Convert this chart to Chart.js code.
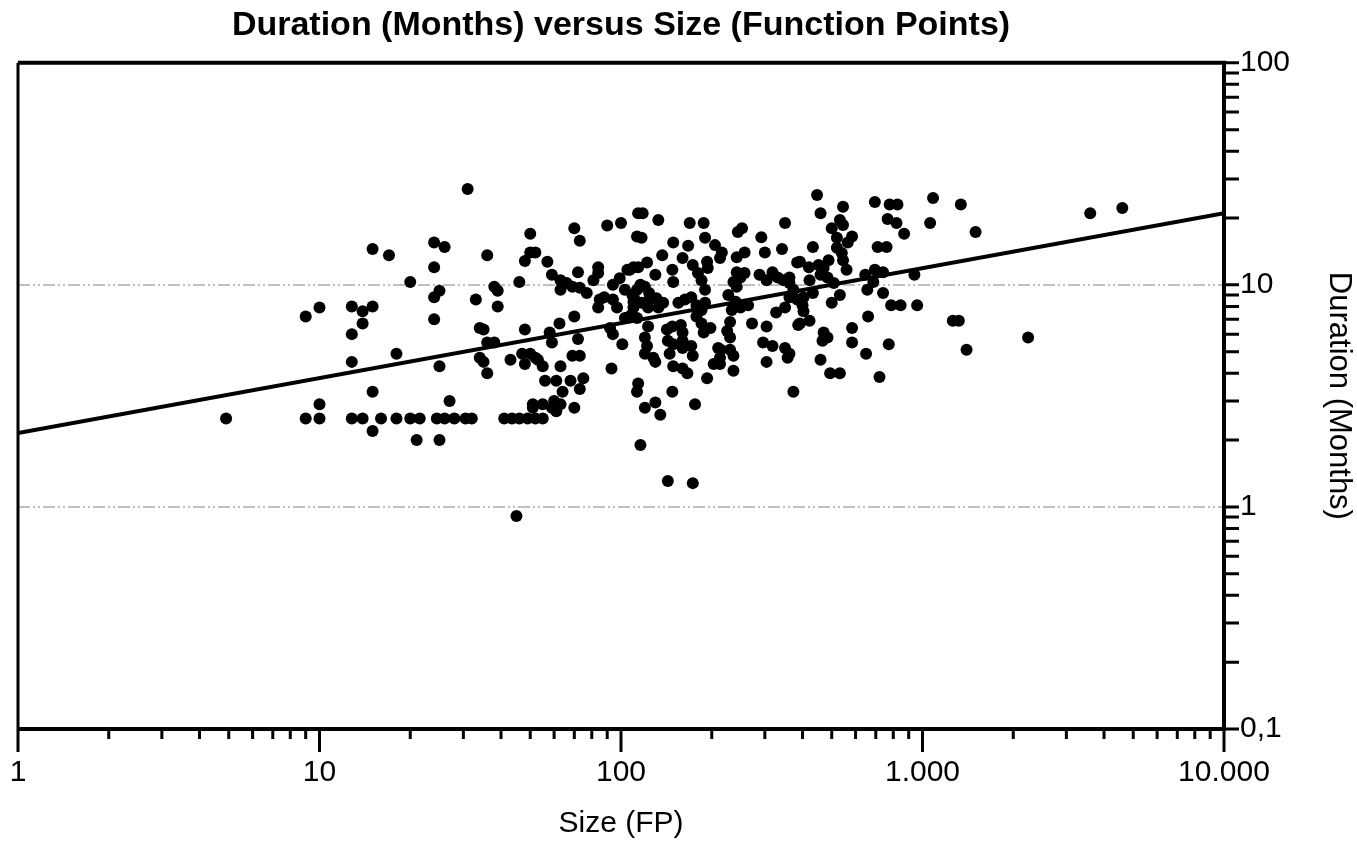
<!DOCTYPE html>
<html>
<head>
<meta charset="utf-8">
<script src="https://cdn.jsdelivr.net/npm/chart.js@4.4.0/dist/chart.umd.min.js"></script>
<style>
  html, body { margin: 0; padding: 0; background: #fff; }
  #wrap { width: 1357px; height: 842px; }
</style>
</head>
<body>
<div id="wrap"><canvas id="chart"></canvas></div>
<script>
const chartTitle = 'Duration (Months) versus Size (Function Points)';
const xTitle = 'Size (FP)';
const yTitle = 'Duration (Months)';

const xTicks = [1, 10, 100, 1000, 10000];
const xTickLabels = ['1', '10', '100', '1.000', '10.000'];
const yTicks = [0.1, 1, 10, 100];
const yTickLabels = ['0,1', '1', '10', '100'];
const gridValues = [1, 10];

// projects: size in function points, duration in months (same order in both arrays)
const sizeFP = [
  4.9,
  9, 10, 9, 10, 10,
  12.8, 13.9, 15, 13.9, 12.8, 12.8,
  15, 17, 18, 15, 15,
  12.8, 13.9, 16, 18, 20, 21.5, 24.5, 26, 28, 30.5, 32,
  21, 25, 27, 25, 24, 24, 25, 24, 24, 26, 20, 31,
  33, 35, 36, 38, 39, 39, 36, 38, 34, 35, 36,
  45, 43, 46, 48, 50, 52, 50, 48, 47, 50, 48, 51, 34,
  57, 70, 73, 90, 100, 114, 113,
  59, 63, 66, 72, 63, 69, 73, 77,
  84, 84, 81, 99, 105, 110,
  85, 88, 84, 94, 97, 70, 62.5,
  52, 53, 55, 58, 59, 72, 69, 73, 63,
  56, 61, 68, 73, 75, 64, 60,
  51, 55, 59, 63, 70, 61,
  41, 43.5, 46, 49, 52, 55,
  93, 114, 113, 92, 94, 101, 103, 108, 110, 109, 111,
  118, 133, 169, 188, 244, 252, 350, 117,
  149, 167, 190, 137, 160, 205, 216, 213, 242, 257,
  292, 300, 342, 384,
  107, 114, 122, 148, 149,
  173, 180, 193, 194, 185, 190,
  242, 249, 257, 236, 242,
  288, 304, 318, 331, 346, 362,
  113, 120, 124, 131, 138,
  110, 117, 123, 133, 107, 113,
  155, 163, 171, 178, 185, 190,
  178, 185, 198, 188,
  227, 240, 249, 264, 233,
  230, 225, 230, 272, 304,
  327, 350, 384, 387,
  123, 120, 122, 120, 130,
  142, 148, 158, 160, 143, 149, 160,
  145, 160, 171, 173, 149, 160, 166, 193,
  210, 213, 236, 203, 213, 236,
  296, 318, 350, 357, 304, 373, 148,
  120, 130, 135, 176, 116, 143, 173,
  116, 124, 130, 103, 94, 128, 214, 230,
  447, 459, 545, 532, 545, 500, 695, 778, 826, 1084,
  766, 820, 869, 1060, 1340,
  520, 584, 565, 520, 540, 545, 433, 710, 760,
  392, 420, 452, 470, 488, 560, 646, 695, 740, 940,
  362, 422, 459, 484, 508,
  373, 403, 433, 362, 532, 500, 656, 687, 740,
  787, 846, 960, 400, 403, 392, 422, 660, 1260, 1320,
  470, 484, 466, 584, 584, 650, 773, 459, 494, 532, 720, 362,
  2240, 1400, 1500, 3600, 4600
];
const durationMonths = [
  2.5,
  7.2, 7.9, 2.5, 2.5, 2.9,
  8.0, 7.6, 8.0, 6.7, 6.0, 4.5,
  14.5, 13.6, 4.9, 3.3, 2.2,
  2.5, 2.5, 2.5, 2.5, 2.5, 2.5, 2.5, 2.5, 2.5, 2.5, 2.5,
  2.0, 2.0, 3.0, 4.3, 7.0, 8.8, 9.4, 12, 15.5, 14.8, 10.3, 27,
  8.6, 6.3, 13.6, 9.8, 9.4, 8.0, 5.5, 5.5, 4.7, 4.5, 4.0,
  0.91, 4.6, 10.3, 12.8, 14, 14, 17, 6.3, 4.9, 4.9, 4.4, 2.8, 6.4,
  12.7, 18, 15.8, 18.5, 19, 21, 16.5,
  11.1, 10.5, 10.2, 11.4, 9.5, 9.8, 9.7, 9.2,
  12, 11.3, 10.5, 10.7, 11.7, 12,
  8.6, 8.8, 7.9, 8.6, 7.9, 7.2, 6.7,
  4.7, 4.6, 4.3, 6.1, 5.5, 5.7, 4.8, 4.8, 4.3,
  3.7, 3.7, 3.7, 3.4, 3.8, 3.3, 3.0,
  2.9, 2.9, 2.8, 2.9, 2.8, 2.7,
  2.5, 2.5, 2.5, 2.5, 2.5, 2.5,
  4.2, 3.6, 3.3, 6.4, 6.0, 5.4, 7.1, 7.3, 7.9, 9.0, 8.6,
  21, 19.6, 19, 19, 17.3, 18, 19, 16.3,
  15.5, 15, 16.3, 13.6, 13.2, 15.1, 14, 13.2, 13.3, 14,
  16.4, 14, 14.5, 12.6,
  11.7, 12, 12.6, 11.7, 10.3,
  12.3, 11.3, 12.7, 11.9, 10.5, 9.5,
  11.4, 10.8, 11.3, 10.3, 9.8,
  11.1, 10.5, 11.4, 10.8, 10.5, 10.2,
  9.5, 9.8, 9.2, 8.7, 8.3,
  8.4, 8.3, 7.9, 7.9, 7.2, 7.1,
  8.3, 8.6, 8.8, 8.1, 7.7, 8.3,
  7.2, 6.7, 6.4, 6.1,
  9.0, 8.4, 7.9, 8.1, 7.7,
  6.8, 6.2, 5.8, 6.7, 6.5,
  7.5, 7.9, 8.6, 6.6,
  6.5, 5.8, 5.3, 4.9, 4.5,
  6.3, 6.5, 6.6, 6.1, 5.6, 5.4, 5.6,
  4.9, 5.2, 5.3, 4.8, 4.3, 4.2, 4.0, 3.8,
  5.2, 4.7, 4.8, 4.4, 4.4, 4.1,
  5.5, 5.3, 5.2, 4.7, 4.5, 3.3, 3.3,
  2.8, 2.95, 2.6, 2.9, 1.9, 1.31, 1.28,
  10, 8.6, 11.1, 9.5, 10, 4.7, 5.1, 5.1,
  25.4, 21, 22.5, 19.6, 18.6, 18, 23.6, 23, 23, 24.6,
  19.8, 19, 17, 19, 23,
  16.3, 16.5, 15.5, 14.7, 13.9, 12.9, 14.8, 14.8, 14.8,
  12.7, 12, 12.3, 11.9, 12.9, 11.7, 11.1, 11.7, 11.4, 11.1,
  10.8, 10.5, 11.1, 10.8, 10.2,
  9.5, 8.8, 9.2, 8.8, 9.0, 8.3, 9.5, 10.3, 9.2,
  8.1, 8.1, 8.1, 8.1, 7.6, 6.7, 6.9, 7.2, 6.9, 6.9,
  6.1, 5.8, 5.6, 6.4, 5.5, 4.9, 5.4, 4.6, 4.0, 4.0, 3.85, 4.9,
  5.8, 5.1, 17.3, 21, 22.2
];

// fitted trend line end points
const fitSize = [1, 10000];
const fitDuration = [2.15, 21];

const fontFamily = "'Liberation Sans', Arial, sans-serif";

function minorTicks(majors) {
  const out = [];
  majors.slice(0, -1).forEach(m => {
    for (let k = 2; k < 10; k++) out.push(m * k);
  });
  return out;
}

// frame around the plot plus the tick marks (long for decades on x)
const frameTicks = {
  id: 'frameTicks',
  afterDraw(chart) {
    const { ctx, chartArea: a, scales: { x, y } } = chart;
    ctx.save();
    ctx.strokeStyle = '#000';
    ctx.lineWidth = 3;
    ctx.beginPath();
    xTicks.forEach(v => {
      const px = x.getPixelForValue(v);
      ctx.moveTo(px, a.bottom);
      ctx.lineTo(px, a.bottom + 23);
    });
    minorTicks(xTicks).forEach(v => {
      const px = x.getPixelForValue(v);
      ctx.moveTo(px, a.bottom);
      ctx.lineTo(px, a.bottom + 10);
    });
    yTicks.concat(minorTicks(yTicks)).forEach(v => {
      const py = y.getPixelForValue(v);
      ctx.moveTo(a.right, py);
      ctx.lineTo(a.right + 15, py);
    });
    ctx.stroke();

    ctx.lineWidth = 4;
    ctx.beginPath();
    ctx.moveTo(a.left, a.bottom);
    ctx.lineTo(a.right, a.bottom);
    ctx.lineTo(a.right, a.top);
    ctx.lineTo(a.left, a.top);
    ctx.stroke();
    ctx.lineWidth = 3;
    ctx.beginPath();
    ctx.moveTo(a.left, a.top);
    ctx.lineTo(a.left, a.bottom);
    ctx.stroke();
    ctx.restore();
  }
};

new Chart(document.getElementById('chart'), {
  type: 'scatter',
  data: {
    datasets: [
      {
        type: 'line',
        data: fitSize.map((s, i) => ({ x: s, y: fitDuration[i] })),
        borderColor: '#000',
        borderWidth: 4,
        pointRadius: 0,
        fill: false,
        order: 0
      },
      {
        data: sizeFP.map((s, i) => ({ x: s, y: durationMonths[i] })),
        backgroundColor: '#000',
        borderColor: '#000',
        borderWidth: 0,
        pointRadius: 6,
        order: 1
      }
    ]
  },
  options: {
    responsive: true,
    maintainAspectRatio: false,
    animation: false,
    layout: { padding: { left: 18, right: 0, top: 0, bottom: 0 } },
    plugins: {
      legend: { display: false },
      tooltip: { enabled: false },
      title: {
        display: true,
        fullSize: false,
        text: chartTitle,
        color: '#000',
        font: { family: fontFamily, size: 34, weight: 'bold' },
        padding: { top: 5, bottom: 17 }
      }
    },
    scales: {
      x: {
        type: 'logarithmic',
        position: 'bottom',
        min: 1,
        max: 10000,
        afterBuildTicks: s => { s.ticks = xTicks.map(v => ({ value: v })); },
        afterFit: s => { s.height = 113; s.paddingLeft = 0; s.paddingRight = 0; },
        ticks: {
          autoSkip: false,
          maxRotation: 0,
          color: '#000',
          padding: 26,
          font: { family: fontFamily, size: 30 },
          callback: (v, i) => xTickLabels[i]
        },
        grid: { display: false, drawTicks: false },
        border: { display: false },
        title: {
          display: true,
          text: xTitle,
          color: '#000',
          font: { family: fontFamily, size: 30 },
          padding: { top: 0, bottom: 0 }
        }
      },
      y: {
        type: 'logarithmic',
        position: 'right',
        min: 0.1,
        max: 100,
        afterBuildTicks: s => { s.ticks = yTicks.map(v => ({ value: v })); },
        afterFit: s => { s.width = 133; s.paddingTop = 0; s.paddingBottom = 0; },
        ticks: {
          color: '#000',
          padding: 16,
          font: { family: fontFamily, size: 30 },
          callback: (v, i) => yTickLabels[i]
        },
        grid: {
          drawTicks: false,
          lineWidth: 2,
          color: c => (c.tick && gridValues.includes(c.tick.value)) ? '#c0c0c0' : 'rgba(0,0,0,0)'
        },
        border: { display: false, dash: [12, 3, 2, 3, 2, 3] },
        title: {
          display: true,
          text: yTitle,
          color: '#000',
          font: { family: fontFamily, size: 31 },
          padding: { top: 0, bottom: 0 }
        }
      }
    }
  },
  plugins: [frameTicks]
});
</script>
</body>
</html>
